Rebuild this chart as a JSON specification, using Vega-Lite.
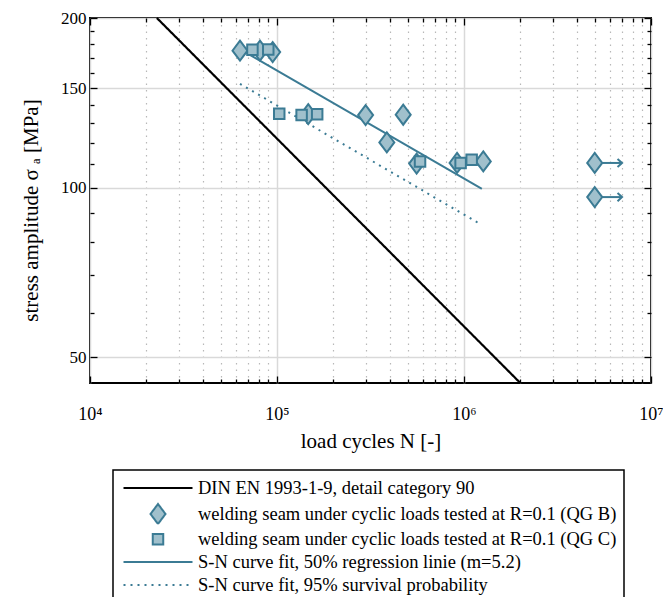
{
  "$schema": "https://vega.github.io/schema/vega-lite/v6.json",
  "width": 561,
  "height": 365,
  "autosize": {"type": "none"},
  "padding": {"left": 90, "top": 18, "right": 12, "bottom": 214},
  "config": {
    "font": "Liberation Serif",
    "view": {"stroke": "black", "strokeWidth": 2},
    "axis": {
      "domain": false,
      "tickColor": "black",
      "tickWidth": 1.3,
      "labelFont": "Liberation Serif",
      "labelFontSize": 17,
      "labelColor": "black",
      "titleFont": "Liberation Serif",
      "titleFontSize": 21,
      "titleFontWeight": "normal",
      "titleColor": "black"
    },
    "legend": {
      "orient": "none",
      "legendX": 23,
      "legendY": 452,
      "strokeColor": "black",
      "strokeWidth": 1.5,
      "fillColor": "white",
      "padding": 7,
      "labelFont": "Liberation Serif",
      "labelFontSize": 18.5,
      "labelColor": "black",
      "labelLimit": 700,
      "rowPadding": 2,
      "labelOffset": 29,
      "symbolOffset": 27,
      "symbolStrokeWidth": 2,
      "symbolFillColor": "#a0c0cc",
      "symbolOpacity": 1
    }
  },
  "datasets": {
    "din": [
      {"series": "DIN EN 1993-1-9, detail category 90", "N": 22781, "sigma": 200},
      {"series": "DIN EN 1993-1-9, detail category 90", "N": 2000000, "sigma": 45}
    ],
    "fits": [
      {"series": "S-N curve fit, 50% regression linie (m=5.2)", "N": 64700, "sigma": 175.4},
      {"series": "S-N curve fit, 50% regression linie (m=5.2)", "N": 1245000, "sigma": 99.5},
      {"series": "S-N curve fit, 95% survival probability", "N": 63400, "sigma": 152.8},
      {"series": "S-N curve fit, 95% survival probability", "N": 1203000, "sigma": 86.4}
    ],
    "points": [
      {"series": "welding seam under cyclic loads tested at R=0.1 (QG B)", "N": 63400, "sigma": 175},
      {"series": "welding seam under cyclic loads tested at R=0.1 (QG B)", "N": 81100, "sigma": 175},
      {"series": "welding seam under cyclic loads tested at R=0.1 (QG B)", "N": 94800, "sigma": 174},
      {"series": "welding seam under cyclic loads tested at R=0.1 (QG B)", "N": 146900, "sigma": 135},
      {"series": "welding seam under cyclic loads tested at R=0.1 (QG B)", "N": 297700, "sigma": 134.5},
      {"series": "welding seam under cyclic loads tested at R=0.1 (QG B)", "N": 473000, "sigma": 134.7},
      {"series": "welding seam under cyclic loads tested at R=0.1 (QG B)", "N": 386600, "sigma": 120.3},
      {"series": "welding seam under cyclic loads tested at R=0.1 (QG B)", "N": 558000, "sigma": 110.3},
      {"series": "welding seam under cyclic loads tested at R=0.1 (QG B)", "N": 918000, "sigma": 110.6},
      {"series": "welding seam under cyclic loads tested at R=0.1 (QG B)", "N": 1268000, "sigma": 111.3},
      {"series": "welding seam under cyclic loads tested at R=0.1 (QG B)", "N": 5000000, "sigma": 110.6},
      {"series": "welding seam under cyclic loads tested at R=0.1 (QG B)", "N": 5000000, "sigma": 96.2},
      {"series": "welding seam under cyclic loads tested at R=0.1 (QG C)", "N": 73900, "sigma": 175.7},
      {"series": "welding seam under cyclic loads tested at R=0.1 (QG C)", "N": 89800, "sigma": 175.9},
      {"series": "welding seam under cyclic loads tested at R=0.1 (QG C)", "N": 102800, "sigma": 135.2},
      {"series": "welding seam under cyclic loads tested at R=0.1 (QG C)", "N": 135400, "sigma": 134.6},
      {"series": "welding seam under cyclic loads tested at R=0.1 (QG C)", "N": 164000, "sigma": 135},
      {"series": "welding seam under cyclic loads tested at R=0.1 (QG C)", "N": 582000, "sigma": 111.3},
      {"series": "welding seam under cyclic loads tested at R=0.1 (QG C)", "N": 959000, "sigma": 110.6},
      {"series": "welding seam under cyclic loads tested at R=0.1 (QG C)", "N": 1099000, "sigma": 112.1}
    ],
    "runouts": [
      {"N": 5000000, "N_end": 7000000, "sigma": 110.6},
      {"N": 5000000, "N_end": 7000000, "sigma": 96.2}
    ]
  },
  "layer": [
    {
      "data": {"name": "din"},
      "mark": {"type": "line", "strokeWidth": 2.2},
      "encoding": {
        "x": {"field": "N", "type": "quantitative",
          "scale": {"type": "log", "domain": [10000, 10000000], "nice": false},
          "axis": {"orient": "bottom", "values": [10000, 100000, 1000000, 10000000],
            "labelExpr": "'10' + (datum.value < 50000 ? '⁴' : datum.value < 500000 ? '⁵' : datum.value < 5000000 ? '⁶' : '⁷')",
            "labelFlush": false, "labelOverlap": false, "labelBound": false, "labelFontSize": 18,
            "grid": true, "gridColor": "#d9d9d9", "gridWidth": 1.5,
            "tickSize": -7, "labelPadding": 29, "title": "load cycles N [-]", "titlePadding": 7}},
        "y": {"field": "sigma", "type": "quantitative",
          "scale": {"type": "log", "domain": [45, 200], "nice": false},
          "axis": {"orient": "left", "values": [50, 100, 150, 200],
            "grid": true, "gridColor": "#d9d9d9", "gridWidth": 1.5,
            "tickSize": -7, "labelPadding": 11, "labelOverlap": false, "labelBound": false, "labelFlush": false,
            "title": "stress amplitude σ ₐ  [MPa]", "titlePadding": 19, "titleY": 192}},
        "color": {"field": "series", "type": "nominal",
          "scale": {"domain": ["DIN EN 1993-1-9, detail category 90", "welding seam under cyclic loads tested at R=0.1 (QG B)", "welding seam under cyclic loads tested at R=0.1 (QG C)", "S-N curve fit, 50% regression linie (m=5.2)", "S-N curve fit, 95% survival probability"],
            "range": ["#000000", "#3b7b94", "#3b7b94", "#3b7b94", "#3b7b94"]},
          "legend": {"title": null}},
        "strokeDash": {"field": "series", "type": "nominal",
          "scale": {"domain": ["DIN EN 1993-1-9, detail category 90", "welding seam under cyclic loads tested at R=0.1 (QG B)", "welding seam under cyclic loads tested at R=0.1 (QG C)", "S-N curve fit, 50% regression linie (m=5.2)", "S-N curve fit, 95% survival probability"],
            "range": [[1, 0], [1, 0], [1, 0], [1, 0], [2, 5]]},
          "legend": {"title": null}}
      }
    },
    {
      "data": {"name": "fits"},
      "mark": {"type": "line", "strokeWidth": 2},
      "encoding": {
        "x": {"field": "N", "type": "quantitative",
          "scale": {"type": "log", "domain": [10000, 10000000], "nice": false},
          "axis": {"orient": "bottom", "values": [20000, 30000, 40000, 50000, 60000, 70000, 80000, 90000, 200000, 300000, 400000, 500000, 600000, 700000, 800000, 900000, 2000000, 3000000, 4000000, 5000000, 6000000, 7000000, 8000000, 9000000],
            "labels": false, "grid": true, "gridColor": "#b8b8b8", "gridDash": [1.5, 5], "gridWidth": 1.2,
            "tickSize": -4, "title": null}},
        "y": {"field": "sigma", "type": "quantitative",
          "scale": {"type": "log", "domain": [45, 200], "nice": false},
          "axis": {"orient": "left", "values": [60, 70, 80, 90, 110, 120, 130, 140, 160, 170, 180, 190],
            "labels": false, "grid": false, "tickSize": -4, "title": null}},
        "color": {"field": "series", "type": "nominal",
          "scale": {"domain": ["DIN EN 1993-1-9, detail category 90", "welding seam under cyclic loads tested at R=0.1 (QG B)", "welding seam under cyclic loads tested at R=0.1 (QG C)", "S-N curve fit, 50% regression linie (m=5.2)", "S-N curve fit, 95% survival probability"],
            "range": ["#000000", "#3b7b94", "#3b7b94", "#3b7b94", "#3b7b94"]},
          "legend": {"title": null}},
        "strokeDash": {"field": "series", "type": "nominal",
          "scale": {"domain": ["DIN EN 1993-1-9, detail category 90", "welding seam under cyclic loads tested at R=0.1 (QG B)", "welding seam under cyclic loads tested at R=0.1 (QG C)", "S-N curve fit, 50% regression linie (m=5.2)", "S-N curve fit, 95% survival probability"],
            "range": [[1, 0], [1, 0], [1, 0], [1, 0], [2, 5]]},
          "legend": {"title": null}}
      }
    },
    {
      "data": {"name": "runouts"},
      "mark": {"type": "rule", "strokeWidth": 2, "color": "#3b7b94"},
      "encoding": {
        "x": {"field": "N", "type": "quantitative",
          "scale": {"type": "log", "domain": [10000, 10000000], "nice": false},
          "axis": {"orient": "top", "values": [10000, 100000, 1000000, 10000000],
            "labels": false, "grid": false, "tickSize": -7, "title": null}},
        "x2": {"field": "N_end"},
        "y": {"field": "sigma", "type": "quantitative",
          "scale": {"type": "log", "domain": [45, 200], "nice": false},
          "axis": {"orient": "right", "values": [50, 100, 150, 200],
            "labels": false, "grid": false, "tickSize": -7, "title": null}}
      }
    },
    {
      "data": {"name": "points"},
      "mark": {"type": "point", "filled": false, "fill": "#a0c0cc", "strokeWidth": 2, "opacity": 1},
      "encoding": {
        "x": {"field": "N", "type": "quantitative",
          "scale": {"type": "log", "domain": [10000, 10000000], "nice": false},
          "axis": {"orient": "top", "values": [20000, 30000, 40000, 50000, 60000, 70000, 80000, 90000, 200000, 300000, 400000, 500000, 600000, 700000, 800000, 900000, 2000000, 3000000, 4000000, 5000000, 6000000, 7000000, 8000000, 9000000],
            "labels": false, "grid": false, "tickSize": -4, "title": null}},
        "y": {"field": "sigma", "type": "quantitative",
          "scale": {"type": "log", "domain": [45, 200], "nice": false},
          "axis": {"orient": "right", "values": [60, 70, 80, 90, 110, 120, 130, 140, 160, 170, 180, 190],
            "labels": false, "grid": false, "tickSize": -4, "title": null}},
        "color": {"field": "series", "type": "nominal",
          "scale": {"domain": ["DIN EN 1993-1-9, detail category 90", "welding seam under cyclic loads tested at R=0.1 (QG B)", "welding seam under cyclic loads tested at R=0.1 (QG C)", "S-N curve fit, 50% regression linie (m=5.2)", "S-N curve fit, 95% survival probability"],
            "range": ["#000000", "#3b7b94", "#3b7b94", "#3b7b94", "#3b7b94"]},
          "legend": {"title": null}},
        "shape": {"field": "series", "type": "nominal",
          "scale": {"domain": ["DIN EN 1993-1-9, detail category 90", "welding seam under cyclic loads tested at R=0.1 (QG B)", "welding seam under cyclic loads tested at R=0.1 (QG C)", "S-N curve fit, 50% regression linie (m=5.2)", "S-N curve fit, 95% survival probability"],
            "range": ["M-3.45,0L3.45,0", "M0,-1L0.75,0L0,1L-0.75,0Z", "square", "M-3.45,0L3.45,0", "M-3.45,0L3.45,0"]},
          "legend": {"title": null}},
        "size": {"field": "series", "type": "nominal",
          "scale": {"type": "ordinal", "domain": ["DIN EN 1993-1-9, detail category 90", "welding seam under cyclic loads tested at R=0.1 (QG B)", "welding seam under cyclic loads tested at R=0.1 (QG C)", "S-N curve fit, 50% regression linie (m=5.2)", "S-N curve fit, 95% survival probability"],
            "range": [400, 400, 110, 400, 400]},
          "legend": {"title": null}}
      }
    },
    {
      "data": {"name": "runouts"},
      "mark": {"type": "point", "filled": false, "strokeWidth": 2, "opacity": 1, "color": "#3b7b94", "shape": "M-1,-0.9L0,0L-1,0.9", "size": 81},
      "encoding": {
        "x": {"field": "N_end", "type": "quantitative",
          "scale": {"type": "log", "domain": [10000, 10000000], "nice": false}, "axis": null},
        "y": {"field": "sigma", "type": "quantitative",
          "scale": {"type": "log", "domain": [45, 200], "nice": false}, "axis": null}
      }
    }
  ],
  "resolve": {"axis": {"x": "independent", "y": "independent"}}
}
